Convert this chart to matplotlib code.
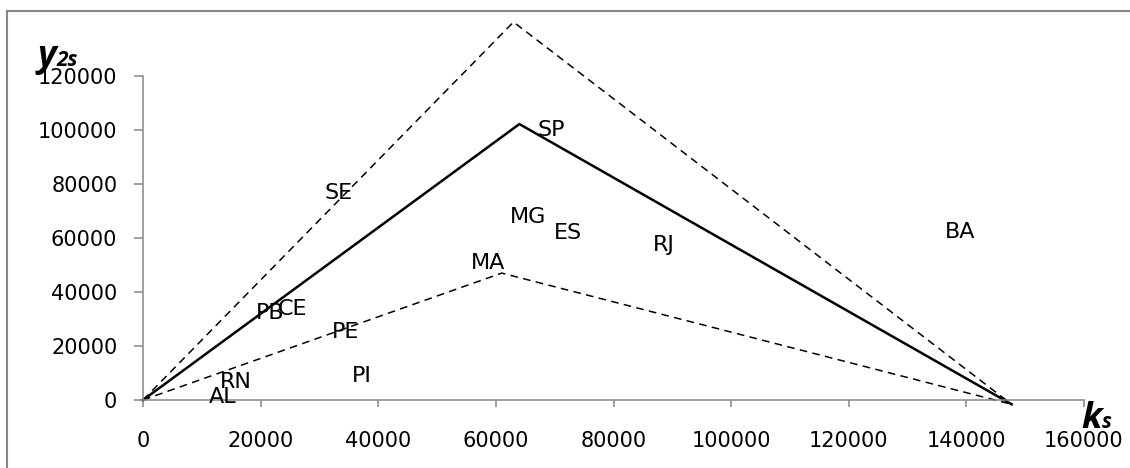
import matplotlib
matplotlib.use("Agg")
import matplotlib.pyplot as plt
from matplotlib.patches import Rectangle

plt.rcParams['font.family'] = ['DejaVu Sans']

# frontier lines (k_s, y_2s)
upper_k = [0, 63000, 147700]
upper_y = [0, 140000, -1600]
mid_k = [0, 64000, 147700]
mid_y = [0, 102200, -1600]
lower_k = [0, 61000, 147700]
lower_y = [0, 47000, -1600]

# states
states = ['SE', 'SP', 'MG', 'ES', 'RJ', 'MA', 'BA', 'PB', 'CE', 'PE', 'PI', 'RN', 'AL']
state_k = [33200, 69400, 65500, 72300, 88500, 58700, 138900, 21600, 25500, 34400, 37200, 15700, 13600]
state_y = [76700, 100000, 67900, 61850, 57400, 50700, 62300, 32200, 33600, 25300, 9000, 6800, 1200]

x_ticks = [0, 20000, 40000, 60000, 80000, 100000, 120000, 140000, 160000]
y_ticks = [0, 20000, 40000, 60000, 80000, 100000, 120000]

W, H = 1130, 468
fig = plt.figure(figsize=(W / 100, H / 100), dpi=100)
ax = fig.add_axes([143 / W, (H - 400) / H, (1084 - 143) / W, (400 - 76) / H])

ax.plot(upper_k, upper_y, color='black', lw=1.1, ls=(0, (5, 3.5)), clip_on=False)
ax.plot(mid_k, mid_y, color='black', lw=1.8, clip_on=False)
ax.plot(lower_k, lower_y, color='black', lw=1.1, ls=(0, (5, 3.5)), clip_on=False)

for name, xk, yk in zip(states, state_k, state_y):
    ax.text(xk, yk, name, ha='center', va='center', fontsize=16, clip_on=False)

ax.set_xlim(0, 160000)
ax.set_ylim(0, 120000)
ax.set_xticks(x_ticks)
ax.set_yticks(y_ticks)
ax.tick_params(axis='x', length=5, width=1.1, color='#868686', pad=17, labelsize=15)
ax.tick_params(axis='y', length=6.5, width=1.1, color='#868686', pad=12, labelsize=15)
for side in ['top', 'right']:
    ax.spines[side].set_visible(False)
for side in ['left', 'bottom']:
    ax.spines[side].set_color('#868686')
    ax.spines[side].set_linewidth(1.1)

# axis names
name_font = ['Open Sans', 'DejaVu Sans']
fig.text(37 / W, (H - 66) / H, 'y', fontsize=26, fontweight='bold', style='italic', family=name_font)
fig.text(56 / W, (H - 66) / H, '2s', fontsize=15, fontweight='bold', style='italic', family=name_font)
fig.text(1081 / W, (H - 428) / H, 'k', fontsize=26, fontweight='bold', style='italic', family=name_font)
fig.text(1102 / W, (H - 428) / H, 's', fontsize=15, fontweight='bold', style='italic', family=name_font)

fig.add_artist(Rectangle((7 / W, -0.1), 1.2, (H - 11) / H + 0.1, transform=fig.transFigure,
                         fill=False, edgecolor='#868686', lw=1.5))

fig.savefig('out.png', dpi=100)
